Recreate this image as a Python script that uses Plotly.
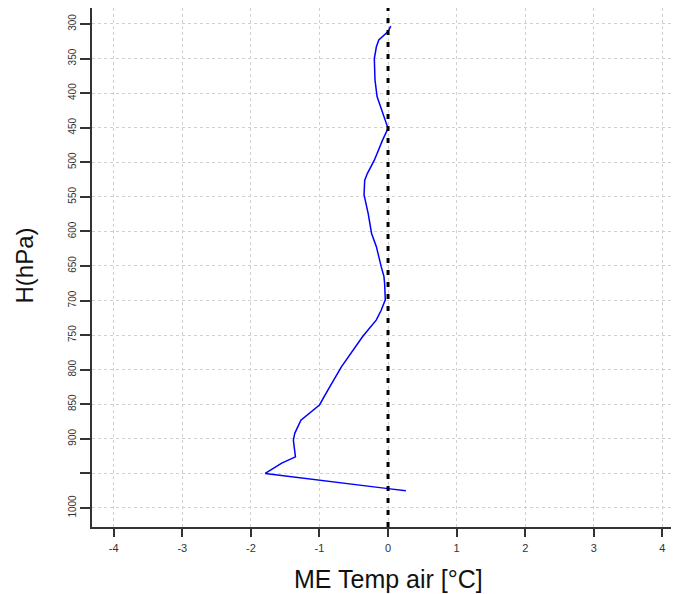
import plotly.graph_objects as go

# Profile of mean error (ME) of air temperature vs pressure level
me_temp = [0.04, 0.0, -0.135, -0.17, -0.2, -0.19, -0.16, -0.08, 0.0, -0.08, -0.2, -0.3,
           -0.34, -0.35, -0.29, -0.24, -0.17, -0.1, -0.06, -0.05, -0.04, -0.1, -0.17,
           -0.37, -0.68, -0.85, -1.0, -1.27, -1.36, -1.38, -1.35, -1.55, -1.79, 0.0, 0.26]
pressure = [303, 311, 323, 333, 350, 381, 405, 429, 451, 468, 497, 516,
            526, 547, 574, 603, 622, 651, 665, 675, 699, 714, 728,
            752, 796, 825, 851, 873, 892, 902, 926, 935, 950, 972, 975]

x_ticks = [-4, -3, -2, -1, 0, 1, 2, 3, 4]
y_ticks = [300, 350, 400, 450, 500, 550, 600, 650, 700, 750, 800, 850, 900, 950, 1000]
y_ticktext = ["300", "350", "400", "450", "500", "550", "600", "650", "700", "750",
              "800", "850", "900", "", "1000"]

fig = go.Figure()
fig.add_trace(go.Scatter(x=me_temp, y=pressure, mode="lines",
                         line=dict(color="#0000ff", width=1.5), showlegend=False,
                         hoverinfo="skip"))

fig.add_shape(type="line", xref="x", yref="paper", x0=0, x1=0, y0=0, y1=1,
              line=dict(color="black", width=3, dash="5px,7px"), layer="above")

fig.add_annotation(text="ME Temp air [°C]", xref="x", yref="paper", x=0, y=-0.1,
                   xanchor="center", yanchor="middle", showarrow=False,
                   font=dict(size=25, color="#111"))
fig.add_annotation(text="H(hPa)", xref="paper", yref="paper", x=0, y=0.5,
                   xanchor="center", yanchor="middle", showarrow=False, textangle=-90,
                   font=dict(size=24, color="#111"), xshift=-68, yshift=2)

fig.update_layout(
    width=671, height=586,
    margin=dict(l=84, r=0, t=0, b=67),
    paper_bgcolor="white", plot_bgcolor="white",
    font=dict(family="Liberation Sans, Arial, sans-serif", color="#222"),
    xaxis=dict(range=[-4.316, 4.242], tickvals=x_ticks, ticktext=[str(v) for v in x_ticks],
               showgrid=True, gridcolor="#d0d0d0", griddash="dot", gridwidth=1,
               zeroline=False, showline=True, linecolor="#333", linewidth=1.5, mirror=True,
               ticks="outside", ticklen=8, tickcolor="#333", tickwidth=1.5,
               ticklabelstandoff=2,
               tickfont=dict(size=11, color="#333"), automargin=False),
    yaxis=dict(range=[1027.5, 276.9], tickvals=y_ticks, ticktext=y_ticktext,
               showgrid=True, gridcolor="#d0d0d0", griddash="dot", gridwidth=1,
               zeroline=False, showline=True, linecolor="#333", linewidth=1.5, mirror=False,
               ticks="outside", ticklen=10, tickcolor="#333", tickwidth=1.5,
               tickangle=-90, tickfont=dict(size=10, color="#333"), automargin=False),
)

fig.write_html("out.html")
